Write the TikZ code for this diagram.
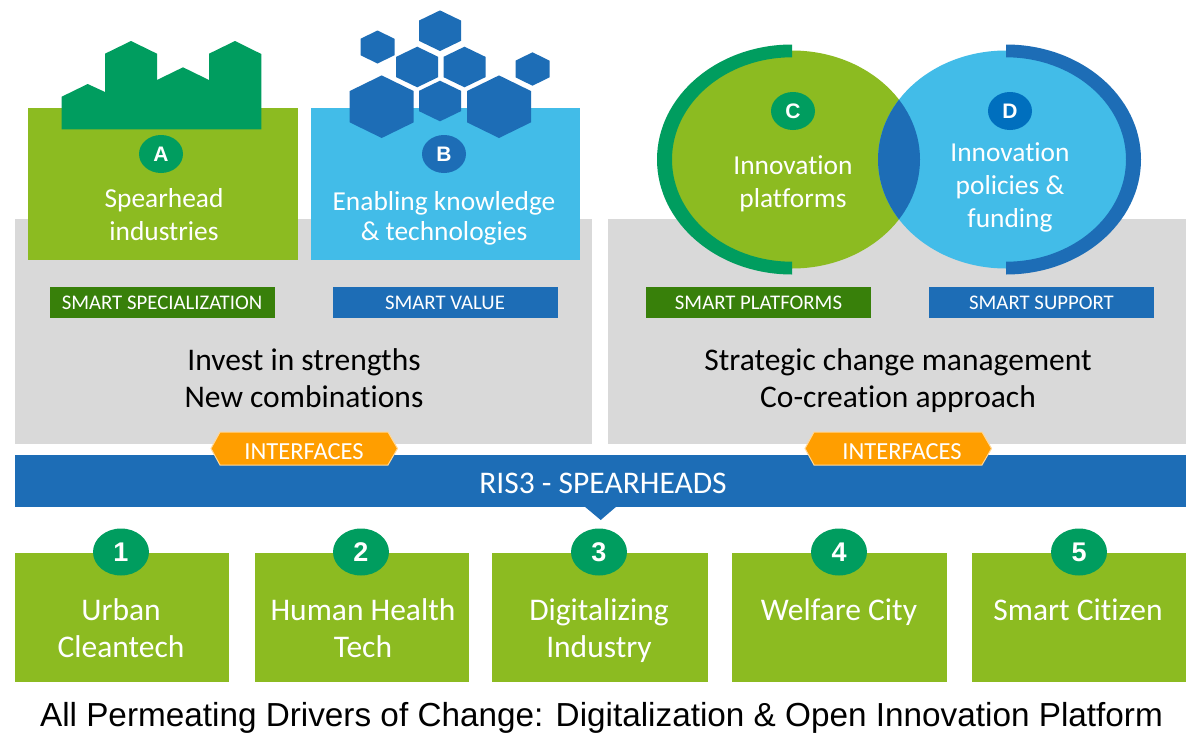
\documentclass[tikz,border=0pt]{standalone}
\usepackage{fontspec}
\setmainfont[Ligatures=CommonOff]{Carlito}
\newfontfamily\arialf{Liberation Sans}
\definecolor{leaf}{HTML}{8CBB21}
\definecolor{sky}{HTML}{42BCE8}
\definecolor{deepblue}{HTML}{1D6DB6}
\definecolor{teal2}{HTML}{009D5F}
\definecolor{panel}{HTML}{D9D9D9}
\definecolor{darkleaf}{HTML}{38800A}
\definecolor{amber}{HTML}{FF9E00}
\definecolor{royal}{HTML}{006FBE}
\newcommand{\fsz}[2]{\fontsize{#1}{#2}\selectfont}
\newcommand{\hexa}[5][deepblue]{% centre x,y, half width, half height
  \fill[#1] ({#2},{#3-#5}) -- ({#2+#4},{#3-#5/2}) -- ({#2+#4},{#3+#5/2}) -- ({#2},{#3+#5}) -- ({#2-#4},{#3+#5/2}) -- ({#2-#4},{#3-#5/2}) -- cycle;}
\usetikzlibrary{shapes.geometric}
\tikzset{
  x=1pt,y=-1pt,
  plain/.style={inner sep=0pt,outer sep=0pt,draw=none},
  bigtext/.style={plain,text=white,align=center,font=\fsz{27.4}{33}},
  bar/.style={plain,text=white,font=\fsz{20.8}{23},minimum width=225pt,minimum height=31pt},
  darktext/.style={plain,text=black,align=center,font=\fsz{31.5}{37}},
  badge/.style={plain,ellipse,fill=teal2,text=white,font=\arialf\bfseries\fsz{21}{25},minimum width=44pt,minimum height=38pt},
  numbadge/.style={badge,minimum width=56pt,minimum height=47pt,font=\arialf\bfseries\fsz{27}{30}},
  spear/.style={plain,fill=leaf,minimum height=129pt},
  ribbon/.style={plain,text=white,font=\fsz{24.5}{27}},
  spt/.style={bigtext,font=\fsz{31.5}{37}},
}
\begin{document}
\begin{tikzpicture}
\useasboundingbox (0,0) rectangle (1200,750);
\fill[white] (0,0) rectangle (1200,750);
% grey panels
\fill[panel] (15,219) rectangle (592,444);
\fill[panel] (608,219) rectangle (1186,444);
% A
\fill[leaf] (28,108) rectangle (298,260);
\fill[teal2] (61.7,129.3) -- (61.7,96.7) -- (87.7,84) -- (105,92) -- (105,53.7) -- (131,41) -- (157,53.7) -- (157,80) -- (183,67.3) -- (209,80) -- (209,53.7) -- (235,41) -- (261.3,54) -- (261.3,129.3) -- cycle;
% B
\fill[sky] (311,108) rectangle (580,260);
\hexa{440}{30.7}{21}{20.3}
\hexa{377.5}{47}{17}{16.5}
\hexa{417.2}{67}{21}{20.3}
\hexa{464.5}{67}{21}{20.3}
\hexa{532.5}{69}{17}{16.7}
\hexa{381.7}{106.7}{32}{31.3}
\hexa{440}{101}{21}{20.3}
\hexa{499}{106.7}{32}{31.3}
% C, D venn
\fill[leaf] (792,159.5) ellipse [x radius=128pt,y radius=109pt];
\fill[sky] (1006,159.5) ellipse [x radius=128pt,y radius=109pt];
\begin{scope}
\clip (792,159.5) ellipse [x radius=128pt,y radius=109pt];
\fill[deepblue] (1006,159.5) ellipse [x radius=128pt,y radius=109pt];
\end{scope}
\fill[teal2] (792,44.5) arc [start angle=90,end angle=270,x radius=135pt,y radius=115pt] -- (792,261.7) arc [start angle=270,end angle=90,x radius=120pt,y radius=102.2pt] -- cycle;
\fill[deepblue] (1006,44.5) arc [start angle=90,end angle=-90,x radius=135pt,y radius=115pt] -- (1006,261.7) arc [start angle=-90,end angle=90,x radius=120pt,y radius=102.2pt] -- cycle;
% badges
\node[badge] (ba) at (161,154) {A};
\node[badge,fill=deepblue] (bb) at (444,154) {B};
\node[badge] (bc) at (793,111) {C};
\node[badge,fill=royal] (bd) at (1010,111) {D};
% main labels
\node[bigtext] (ta) at (164,214.5) {Spearhead\\industries};
\node[bigtext,font=\fsz{27.4}{30}] (tb) at (444,218) {Enabling knowledge\\\& technologies};
\node[bigtext] (tc) at (793,183.5) {Innovation\\platforms};
\node[bigtext] (td) at (1010,187) {Innovation\\policies \&\\funding};
% smart bars
\node[bar,fill=darkleaf] (s1) at (162,302.5) {SMART SPECIALIZATION};
\node[bar,fill=deepblue] (s2) at (445,302.5) {SMART VALUE};
\node[bar,fill=darkleaf] (s3) at (758.5,302.5) {SMART PLATFORMS};
\node[bar,fill=deepblue] (s4) at (1041.5,302.5) {SMART SUPPORT};
% dark text
\node[darktext] (d1) at (304,378.5) {Invest in strengths\\New combinations};
\node[darktext] (d2) at (898,380.5) {Strategic change management\\Co-creation approach};
% banner
\fill[deepblue] (15,455) rectangle (1186,507);
\fill[deepblue] (584,506) -- (617,506) -- (600.7,520) -- cycle;
\node[ribbon,font=\fsz{31.5}{34}] (ris) at (603,483) {RIS3 - SPEARHEADS};
% interfaces
\draw[amber!40!white,line width=1pt,fill=amber] (211,448.5) -- (220,432) -- (388,432) -- (397.5,448.5) -- (388,465) -- (220,465) -- cycle;
\draw[amber!40!white,line width=1pt,fill=amber] (805,448.5) -- (814,432) -- (982,432) -- (991.5,448.5) -- (982,465) -- (814,465) -- cycle;
\node[ribbon] (i1) at (304,452) {INTERFACES};
\node[ribbon] (i2) at (902,452) {INTERFACES};
% spearheads
\node[spear,minimum width=214pt] (g1) at (122,617.5) {};
\node[spear,minimum width=214pt] (g2) at (362,617.5) {};
\node[spear,minimum width=216pt] (g3) at (600,617.5) {};
\node[spear,minimum width=215pt] (g4) at (839.5,617.5) {};
\node[spear,minimum width=214pt] (g5) at (1079,617.5) {};
\node[numbadge] (n1) at (121,552) {1};
\node[numbadge] (n2) at (361,552) {2};
\node[numbadge] (n3) at (599,552) {3};
\node[numbadge] (n4) at (839,552) {4};
\node[numbadge] (n5) at (1079,552) {5};
\node[spt] (t1) at (121,628.5) {Urban\\Cleantech};
\node[spt] (t2) at (363,628.5) {Human Health\\Tech};
\node[spt] (t3) at (599,630.5) {Digitalizing\\Industry};
\node[spt] (t4) at (839,612) {Welfare City};
\node[spt] (t5) at (1078,610) {Smart Citizen};
\node[plain,font=\arialf\fsz{33.3}{38}] (cap) at (601.5,718) {All Permeating Drivers of Change: Digitalization \& Open Innovation Platform};
\end{tikzpicture}
\end{document}
